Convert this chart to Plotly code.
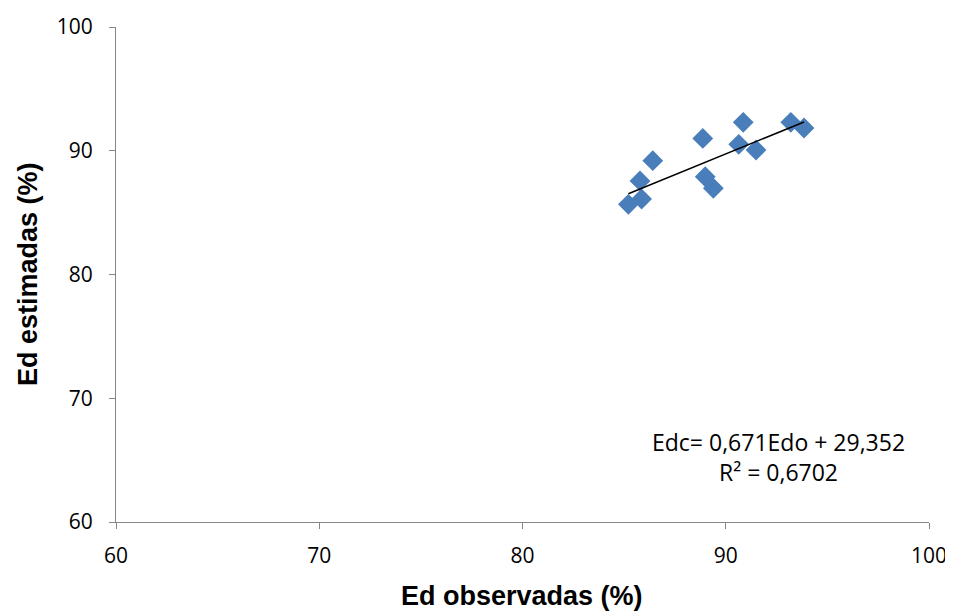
import plotly.graph_objects as go

ed_obs = [85.21, 85.86, 85.78, 86.41, 88.87, 88.99, 89.39, 90.86, 90.64, 91.49, 93.20, 93.85]
ed_est = [85.67, 86.10, 87.56, 89.20, 91.00, 87.90, 86.97, 92.30, 90.52, 90.06, 92.30, 91.84]
slope = 0.671
intercept = 29.352
r2_text = "0,6702"
x_ticks = [60, 70, 80, 90, 100]
y_ticks = [60, 70, 80, 90, 100]

x_min, x_max = min(ed_obs), max(ed_obs)
fit_x = [x_min, x_max]
fit_y = [slope * v + intercept for v in fit_x]

# layout geometry (page body has an 8px margin)
OFF = 8
FW, FH = 953 - OFF, 613 - OFF
PL, PT, PW, PH = 116, 27, 813, 495
L, T = PL - OFF, PT - OFF
R = FW - L - PW
B = FH - T - PH


def px(xp):
    return (xp - PL) / PW


def py(yp):
    return (PT + PH - yp) / PH


fig = go.Figure()
fig.add_trace(go.Scatter(
    x=ed_obs, y=ed_est, mode="markers",
    marker=dict(symbol="diamond", size=16, color="#4A7EBB", line=dict(width=0)),
    showlegend=False, cliponaxis=False))
fig.add_trace(go.Scatter(
    x=fit_x, y=fit_y, mode="lines",
    line=dict(color="black", width=1.5), showlegend=False))

tick_font = dict(family="Open Sans, sans-serif", size=21, color="#000000")
axis_common = dict(
    showgrid=False, zeroline=False, showline=True, linecolor="#868686", linewidth=1,
    ticks="outside", ticklen=6, tickcolor="#868686", tickfont=tick_font,
    automargin=False,
)
fig.update_xaxes(range=[60, 100], tickvals=x_ticks, ticktext=[str(t) for t in x_ticks],
                 ticklabelstandoff=9, **axis_common)
fig.update_yaxes(range=[60, 100], tickvals=y_ticks, ticktext=[str(t) for t in y_ticks],
                 ticklabelstandoff=12, **axis_common)

title_font = dict(family="Liberation Sans, Arial", size=27, color="black")
fig.add_annotation(x=px(522), y=py(596), xref="paper", yref="paper", showarrow=False,
                   xanchor="center", yanchor="middle",
                   text="<b>Ed observadas (%)</b>", font=title_font)
fig.add_annotation(x=px(28), y=py(274), xref="paper", yref="paper", showarrow=False,
                   xanchor="center", yanchor="middle",
                   text="<b>Ed estimadas (%)</b>", font=title_font, textangle=-90)

fig.add_annotation(
    x=px(778), y=py(457), xref="paper", yref="paper", showarrow=False,
    xanchor="center", yanchor="middle",
    text=f"Edc= {str(slope).replace('.', ',')}Edo + {str(intercept).replace('.', ',')}<br>R² = {r2_text}",
    font=dict(family="Open Sans, sans-serif", size=23, color="black"), align="center")

fig.update_layout(
    width=FW, height=FH,
    margin=dict(l=L, r=R, t=T, b=B, autoexpand=False),
    paper_bgcolor="white", plot_bgcolor="white",
)

fig.write_html("out.html")
